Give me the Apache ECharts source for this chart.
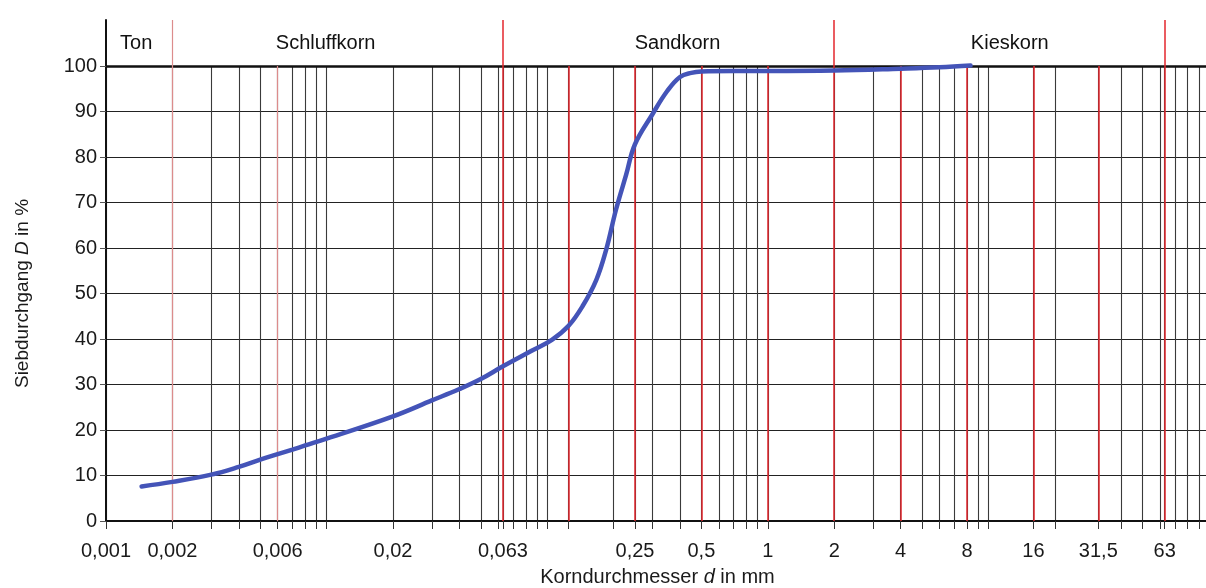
<!DOCTYPE html>
<html>
<head>
<meta charset="utf-8">
<script src="https://cdn.jsdelivr.net/npm/echarts@6/dist/echarts.min.js"></script>
<style>
  html, body { margin: 0; padding: 0; background: #fff; }
  #main { width: 1206px; height: 588px; }
</style>
</head>
<body>
<div id="main"></div>
<script>
// Sieblinie: Korndurchmesser d in mm -> Siebdurchgang in %
var kornD = [0.00145, 0.002, 0.003, 0.004, 0.005, 0.006, 0.007, 0.008, 0.01, 0.02, 0.03, 0.04, 0.05, 0.063,
  0.085, 0.105, 0.125, 0.145, 0.167, 0.185, 0.205, 0.228, 0.25, 0.3, 0.35, 0.4, 0.45, 0.5, 0.7, 1, 2, 4, 6, 8.3];
var durchgang = [7.6, 8.6, 10.2, 11.9, 13.5, 14.7, 15.7, 16.6, 18.1, 23.0, 26.5, 29.0, 31.2, 34.0,
  37.4, 39.8, 42.9, 47.3, 53.0, 59.6, 68.4, 76.1, 82.8, 89.4, 94.5, 97.6, 98.5, 98.8, 98.9, 98.9, 99.0, 99.4, 99.7, 100.1];

// beschriftete Korngrößen
var xLabelValues = [0.001, 0.002, 0.006, 0.02, 0.063, 0.25, 0.5, 1, 2, 4, 8, 16, 31.5, 63];
var xLabelTexts = ['0,001', '0,002', '0,006', '0,02', '0,063', '0,25', '0,5', '1', '2', '4', '8', '16', '31,5', '63'];

// schwarze Gitterlinien (log-Teilung) und rote Siebgrößen
var blackLines = [0.003, 0.004, 0.005, 0.007, 0.008, 0.009, 0.01, 0.02, 0.03, 0.04, 0.05, 0.06, 0.07, 0.08, 0.09,
  0.1, 0.2, 0.3, 0.4, 0.6, 0.7, 0.8, 0.9, 3, 5, 6, 7, 9, 10, 20, 40, 50, 60, 70, 80, 90];
var redLines = [0.002, 0.006, 0.063, 0.125, 0.25, 0.5, 1, 2, 4, 8, 16, 31.5, 63];
var lightRed = [0.002, 0.006];

// Kopfzeile
var bandNames = ['Ton', 'Schluffkorn', 'Sandkorn', 'Kieskorn'];
var bandLabelD = [0.00137, 0.0099, 0.39, 12.5];
var bandBorders = [0.002, 0.063, 2, 63];

var allTicks = [0.001].concat(blackLines, redLines).sort(function (a, b) { return a - b; });

var chart = echarts.init(document.getElementById('main'));
var font = 'Liberation Sans, Arial, sans-serif';

function labelFor(v) {
  var best = 0, bd = Infinity;
  xLabelValues.forEach(function (x, i) {
    var d = Math.abs(Math.log(x) - Math.log(v));
    if (d < bd) { bd = d; best = i; }
  });
  return xLabelTexts[best];
}

function redLine(v) {
  var light = lightRed.indexOf(v) >= 0;
  return { xAxis: v, lineStyle: { type: 'solid', color: light ? '#dc8c8c' : '#e3262d', width: light ? 1.2 : 1.5 } };
}

var option = {
  animation: false,
  textStyle: { fontFamily: font, color: '#1a1a1a' },
  grid: [
    { left: 106, right: -3, top: 66, bottom: 67, outerBoundsMode: 'none' },
    { left: 106, right: -3, top: 20, height: 46, outerBoundsMode: 'none' }
  ],
  xAxis: [
    {
      type: 'log', logBase: 10, min: 0.001, max: 100, gridIndex: 0,
      name: '{n|Korndurchmesser }{i|d}{n| in mm}',
      nameLocation: 'middle', nameGap: 46,
      nameTextStyle: { rich: {
        n: { fontSize: 20, fontFamily: font, color: '#1a1a1a' },
        i: { fontSize: 20, fontFamily: font, fontStyle: 'italic', color: '#1a1a1a' }
      } },
      axisLine: { onZero: false, lineStyle: { color: '#111', width: 2 } },
      axisTick: { show: true, customValues: allTicks, length: 8, lineStyle: { color: '#333' } },
      axisLabel: {
        customValues: xLabelValues, fontSize: 20, margin: 20, color: '#1a1a1a', fontFamily: font,
        formatter: function (v) { return labelFor(v); }
      },
      splitLine: { show: true, lineStyle: { color: '#3a3a3a', width: 1.1 } },
      minorSplitLine: { show: false }
    },
    {
      type: 'log', logBase: 10, min: 0.001, max: 100, gridIndex: 1, position: 'top',
      axisLine: { show: true, lineStyle: { color: '#111', width: 2.5 } },
      axisTick: { show: false }, axisLabel: { show: false }, splitLine: { show: false }
    }
  ],
  yAxis: [
    {
      type: 'value', min: 0, max: 100, interval: 10, gridIndex: 0,
      name: '{n|Siebdurchgang }{i|D}{n| in %}',
      nameLocation: 'middle', nameGap: 74, nameRotate: 90,
      nameTextStyle: { rich: {
        n: { fontSize: 19, fontFamily: font, color: '#1a1a1a' },
        i: { fontSize: 19, fontFamily: font, fontStyle: 'italic', color: '#1a1a1a' }
      } },
      axisLine: { show: true, lineStyle: { color: '#111', width: 2 } },
      axisTick: { show: true, length: 6, lineStyle: { color: '#555' } },
      axisLabel: { fontSize: 20, margin: 9, color: '#1a1a1a', fontFamily: font },
      splitLine: { show: true, lineStyle: { color: '#222', width: 1.2 } }
    },
    {
      type: 'value', min: 0, max: 1, gridIndex: 1,
      axisLine: { show: true, lineStyle: { color: '#111', width: 2 } },
      axisTick: { show: false }, axisLabel: { show: false }, splitLine: { show: false }
    }
  ],
  series: [
    {
      type: 'line', xAxisIndex: 0, yAxisIndex: 0,
      data: kornD.map(function (d, i) { return [d, durchgang[i]]; }),
      smooth: 0.4, symbol: 'none', clip: false, z: 5,
      lineStyle: { color: '#4454b8', width: 4.5, cap: 'round' },
      markLine: {
        silent: true, precision: 6, symbol: ['none', 'none'], label: { show: false }, z: 3,
        data: redLines.map(redLine)
      }
    },
    {
      type: 'scatter', xAxisIndex: 1, yAxisIndex: 1, symbolSize: 1,
      itemStyle: { color: 'rgba(0,0,0,0)', opacity: 1 },
      data: bandLabelD.map(function (d, i) { return { value: [d, 0.5], name: bandNames[i] }; }),
      label: { show: true, position: 'inside', formatter: '{b}', fontSize: 20, color: '#111', opacity: 1, fontFamily: font },
      markLine: {
        silent: true, precision: 6, symbol: ['none', 'none'], label: { show: false },
        data: bandBorders.map(redLine)
      }
    }
  ]
};

chart.setOption(option);
</script>
</body>
</html>
